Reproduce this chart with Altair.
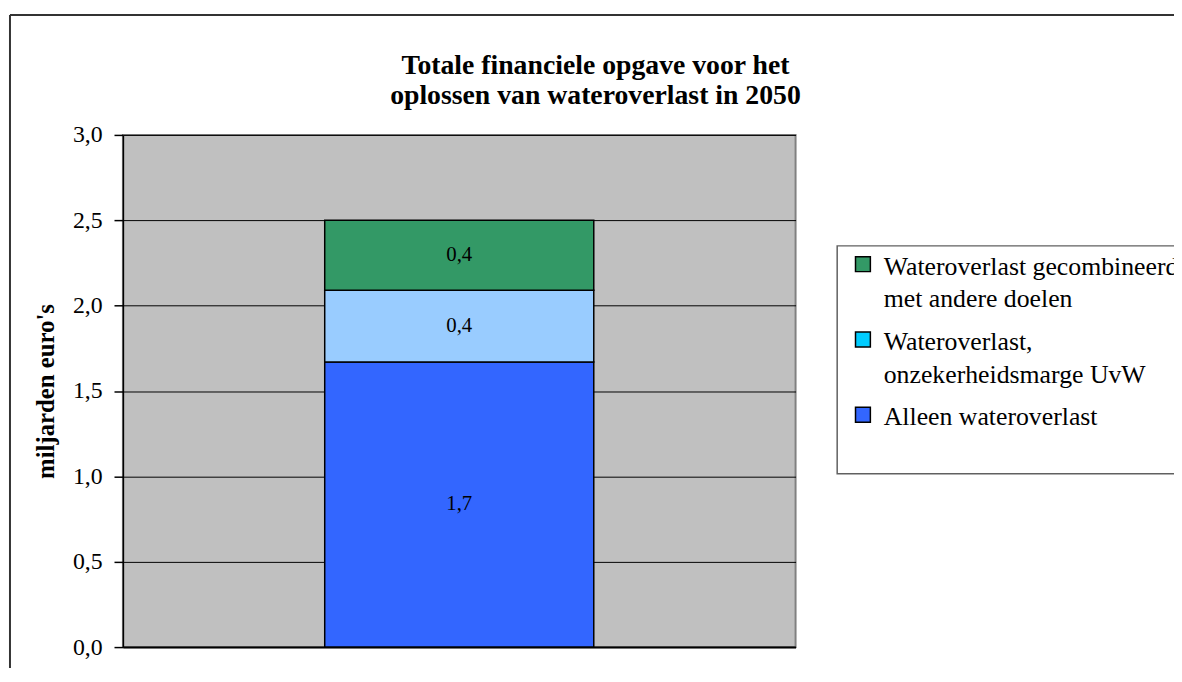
import altair as alt
import pandas as pd

title_lines = ["Totale financiele opgave voor het", "oplossen van wateroverlast in 2050"]
category = ["2050", "2050", "2050"]
series = ["Alleen wateroverlast",
          "Wateroverlast, onzekerheidsmarge UvW",
          "Wateroverlast gecombineerd met andere doelen"]
values = [1.67, 0.42, 0.41]
stack_order = [0, 1, 2]
legend_labels = ["Alleen wateroverlast",
                 "Wateroverlast,|onzekerheidsmarge UvW",
                 "Wateroverlast gecombineerd|met andere doelen"]
bar_colors = ["#3366FF", "#99CCFF", "#339966"]
legend_colors = ["#3366FF", "#00CCFF", "#339966"]
y_ticks = [0.0, 0.5, 1.0, 1.5, 2.0, 2.5, 3.0]
y_title = "miljarden euro's"

df = pd.DataFrame({
    "cat": category,
    "series": series,
    "value": values,
    "order": stack_order,
    "legend": legend_labels,
})
one = pd.DataFrame({"k": [0]})

FONT = "Liberation Serif"
W, H = 679, 517

base = alt.Chart(df).transform_window(
    cum="sum(value)", sort=[alt.SortField("order")], frame=[None, 0]
).transform_calculate(
    mid="datum.cum - datum.value / 2",
    label="replace(format(datum.value, '.1f'), '.', ',')",
)

xenc = alt.X("cat:N", title=None,
             scale=alt.Scale(paddingInner=0, paddingOuter=0.75),
             axis=alt.Axis(labels=False, ticks=False, grid=False, domain=True,
                           domainColor="black", domainWidth=2))
yscale = alt.Scale(domain=[0, 3], nice=False, zero=True)
yaxis = alt.Axis(values=y_ticks, title=y_title,
                 labelExpr="replace(format(datum.value, '.1f'), '.', ',')")

leg_domain = legend_labels[::-1]
leg_range = legend_colors[::-1]

legend_layer = base.mark_square(size=225, stroke="black", strokeWidth=1.5, opacity=1).encode(
    x=xenc,
    y=alt.Y("mid:Q", scale=yscale, axis=yaxis),
    color=alt.Color("legend:N", scale=alt.Scale(domain=leg_domain, range=leg_range),
                    legend=alt.Legend(
                        title=None, orient="none", legendX=721, legendY=115,
                        padding=13, symbolType="M-1,-2.4H1V-0.4H-1Z", symbolSize=225,
                        symbolStrokeColor="black", symbolStrokeWidth=1.5,
                        symbolOpacity=1,
                        labelFont=FONT, labelFontSize=26, labelColor="black",
                        labelLimit=1000, labelOffset=8, labelBaseline="alphabetic",
                        rowPadding=17,
                        labelExpr="split(datum.label, '|')")),
)

bars = base.mark_bar(stroke="black", strokeWidth=1.5).encode(
    x=xenc,
    y=alt.Y("value:Q", stack="zero", scale=yscale, axis=yaxis),
    color=alt.Color("series:N", scale=alt.Scale(domain=series, range=bar_colors), legend=None),
    order=alt.Order("order:Q"),
)

texts = base.mark_text(font=FONT, fontSize=21, color="black").encode(
    x=xenc,
    y=alt.Y("mid:Q", scale=yscale, axis=yaxis),
    text="label:N",
)

title_mark = alt.Chart(one).mark_text(
    text=title_lines, font=FONT, fontSize=28, fontWeight="bold", color="black",
    align="center", baseline="alphabetic", lineHeight=30
).encode(x=alt.value(477), y=alt.value(-61))

legend_box = alt.Chart(one).mark_rect(fill="white", stroke="#606060", strokeWidth=1.5).encode(
    x=alt.value(721), x2=alt.value(1120), y=alt.value(112), y2=alt.value(342)
)
frame_top = alt.Chart(one).mark_rule(color="#333333", strokeWidth=2).encode(
    x=alt.value(-114), x2=alt.value(1100), y=alt.value(-121)
)
frame_left = alt.Chart(one).mark_rule(color="#333333", strokeWidth=2).encode(
    x=alt.value(-114), y=alt.value(-121), y2=alt.value(640)
)

chart = alt.layer(
    legend_layer, bars, texts, legend_box, frame_top, frame_left, title_mark
).resolve_scale(
    color="independent"
).properties(
    width=W, height=H,
    autosize=alt.AutoSizeParams(type="none"),
    padding={"left": 116, "top": 125, "right": 382, "bottom": 18},
    background="white",
).configure(
    style={"guide-label": {"lineHeight": 33}}
).configure_view(
    fill="#C0C0C0", stroke="#808080", strokeWidth=2
).configure_axisY(
    domainColor="black", domainWidth=1.5, tickColor="black", tickSize=9, tickWidth=1.5,
    labelFont=FONT, labelFontSize=24, labelColor="black", labelPadding=12,
    gridColor="black", gridWidth=1, grid=True,
    titleFont=FONT, titleFontSize=25, titleFontWeight="bold", titleColor="black",
    titlePadding=14,
)

chart.save("out.html", embed_options={"renderer": "svg", "actions": False})
